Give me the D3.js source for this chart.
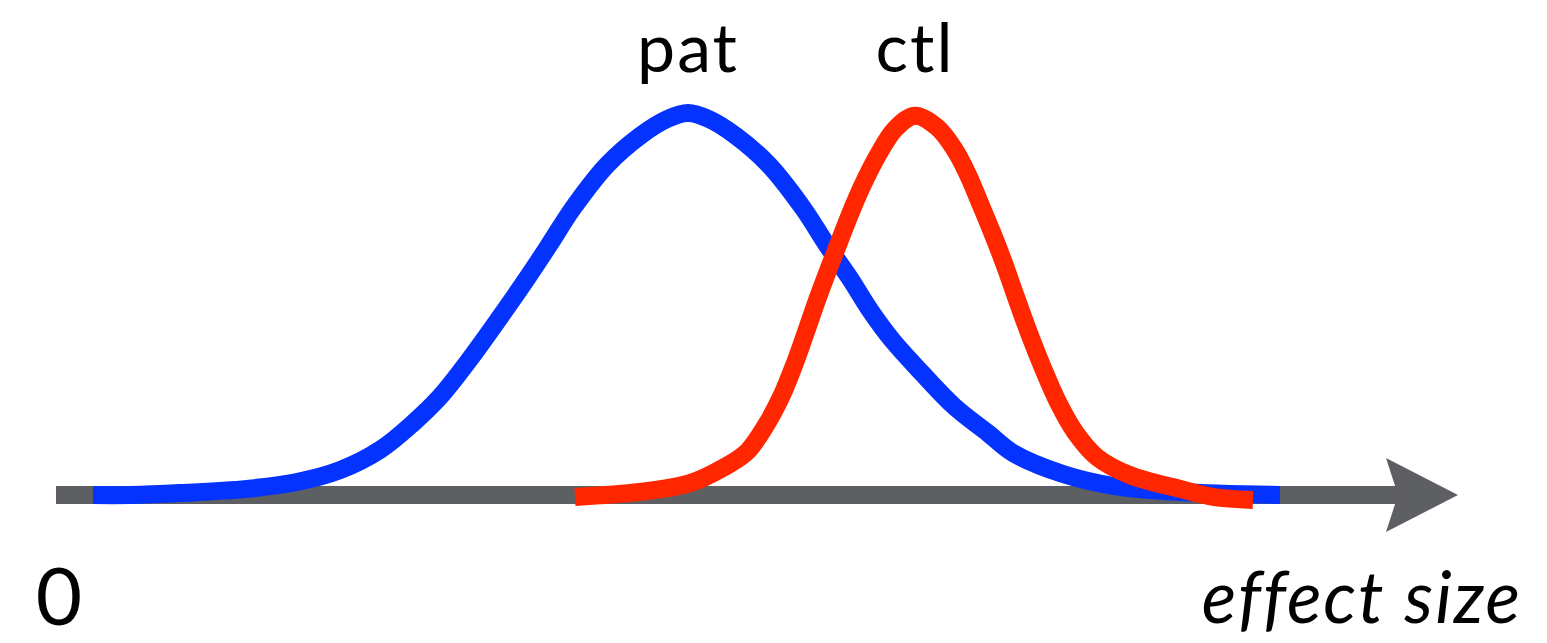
<!DOCTYPE html>
<html>
<head>
<meta charset="utf-8">
<script src="https://cdn.jsdelivr.net/npm/d3@7"></script>
<style>
    html, body { margin: 0; padding: 0; background: #fff; }
    svg { display: block; }
</style>
</head>
<body>
<div id="chart"></div>
<script>
// effect size positions (arbitrary units) and density heights
const patX = [0.37, 0.74, 1.24, 1.91, 2.41, 2.84, 3.24, 3.57, 3.84, 4.11, 4.42, 4.72, 4.93, 5.17, 5.51, 5.84, 6.11, 6.32,
              6.53, 6.80, 7.13, 7.47, 7.71, 7.95, 8.14, 8.36, 8.66, 8.99, 9.32, 9.57, 10.07, 10.57, 11.24, 12.24];
const patY = [0, 0, 0.005, 0.016, 0.034, 0.065, 0.118, 0.188, 0.257, 0.346, 0.458, 0.571, 0.654, 0.751, 0.864, 0.940, 0.984, 1.0,
              0.984, 0.940, 0.864, 0.751, 0.654, 0.563, 0.484, 0.406, 0.319, 0.230, 0.162, 0.110, 0.055, 0.024, 0.008, 0];

const ctlX = [5.19, 5.84, 6.34, 6.67, 6.91, 7.10, 7.26, 7.39, 7.50, 7.61, 7.73, 7.85, 7.97, 8.08, 8.22, 8.39, 8.59,
              8.81, 8.99, 9.12, 9.24, 9.36, 9.48, 9.60, 9.73, 9.87, 10.02, 10.19, 10.41, 10.74, 11.24, 11.57, 11.97];
const ctlY = [-0.005, 0.008, 0.031, 0.071, 0.113, 0.183, 0.262, 0.346, 0.427, 0.510, 0.594, 0.675, 0.754, 0.819, 0.890, 0.958, 0.993,
              0.963, 0.903, 0.838, 0.764, 0.688, 0.607, 0.518, 0.424, 0.332, 0.243, 0.165, 0.099, 0.052, 0.016, -0.005, -0.013];

const seriesNames = ['pat', 'ctl'];
const peakX = [6.32, 8.59];
const axisMax = 13.42;
const axisLabel = 'effect size';
const originLabel = '0';

const width = 1547, height = 643;

const svg = d3.select('#chart').append('svg')
    .attr('width', width)
    .attr('height', height)
    .attr('viewBox', `0 0 ${width} ${height}`);

const xScale = d3.scaleLinear().domain([0, 14]).range([56, 1456]);
const yScale = d3.scaleLinear().domain([0, 1]).range([495, 113]);

// axis arrow
const y0 = yScale(0);
svg.append('line')
    .attr('x1', xScale(0))
    .attr('x2', xScale(axisMax) + 1)
    .attr('y1', y0)
    .attr('y2', y0)
    .attr('stroke', '#5e5f63')
    .attr('stroke-width', 18);

const head = [
    [xScale(axisMax) - 12, y0 - 37],
    [xScale(axisMax) + 60, y0],
    [xScale(axisMax) - 12, y0 + 37],
    [xScale(axisMax), y0]
];
svg.append('path')
    .attr('d', 'M' + head.join('L') + 'Z')
    .attr('fill', '#5e5f63');

// curves
const line = d3.line()
    .curve(d3.curveCatmullRom.alpha(0.5))
    .x(d => xScale(d[0]))
    .y(d => yScale(d[1]));

const series = [
    { name: seriesNames[0], pts: d3.zip(patX, patY), color: '#0433ff', peak: peakX[0] },
    { name: seriesNames[1], pts: d3.zip(ctlX, ctlY), color: '#ff2600', peak: peakX[1] }
];

svg.selectAll('.curve')
    .data(series)
    .enter()
    .append('path')
    .classed('curve', true)
    .attr('d', d => line(d.pts))
    .attr('fill', 'none')
    .attr('stroke', d => d.color)
    .attr('stroke-width', 18)
    .attr('stroke-linejoin', 'round');

// labels
svg.selectAll('.name')
    .data(series)
    .enter()
    .append('text')
    .classed('name', true)
    .text(d => d.name)
    .attr('x', d => xScale(d.peak))
    .attr('y', 72)
    .attr('text-anchor', 'middle')
    .attr('font-family', 'Lato, sans-serif')
    .attr('font-size', 68)
    .attr('letter-spacing', 2)
    .attr('fill', '#000');

svg.append('text')
    .text(originLabel)
    .attr('x', xScale(0) + 3)
    .attr('y', 625)
    .attr('text-anchor', 'middle')
    .attr('font-family', 'Lato, sans-serif')
    .attr('font-size', 80)
    .attr('fill', '#000');

svg.append('text')
    .text(axisLabel)
    .attr('x', 1522)
    .attr('y', 623)
    .attr('text-anchor', 'end')
    .attr('font-family', 'Lato, sans-serif')
    .attr('font-style', 'italic')
    .attr('font-size', 72)
    .attr('letter-spacing', 2)
    .attr('fill', '#000');
</script>
</body>
</html>
